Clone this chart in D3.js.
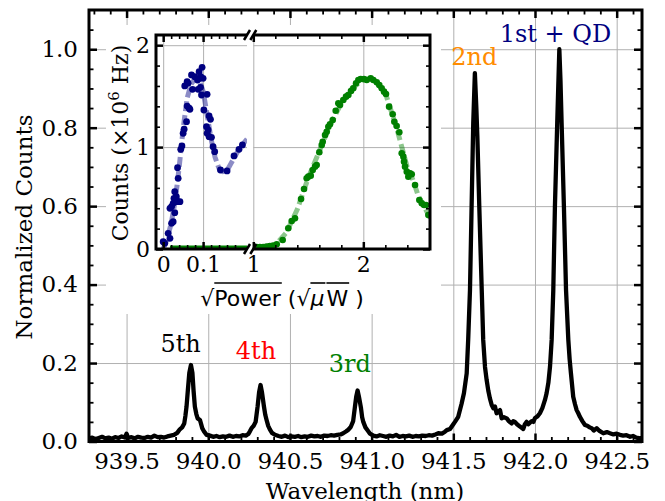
<!DOCTYPE html>
<html>
<head>
<meta charset="utf-8">
<script src="https://cdn.jsdelivr.net/npm/d3@7"></script>
<style>
  body { margin: 0; background: #fff; }
  svg { display: block; }
  text { white-space: pre; }
</style>
</head>
<body>
<svg id="chart" width="665" height="501"></svg>
<script>
// ---- main spectrum (wavelength nm, normalized counts) ----
var specWl = [939.27, 939.29, 939.31, 939.33, 939.35, 939.37, 939.39, 939.41, 939.43, 939.45, 939.47, 939.49, 939.50, 939.51,
  939.53, 939.55, 939.57, 939.59, 939.61, 939.63, 939.65, 939.67, 939.69, 939.71, 939.73, 939.75, 939.77, 939.79, 939.81,
  939.826, 939.84, 939.853, 939.86, 939.867, 939.875, 939.884, 939.894, 939.903, 939.91, 939.918, 939.927, 939.935, 939.949,
  939.956, 939.963, 939.975, 939.99, 940.01, 940.03, 940.05, 940.07, 940.09, 940.11, 940.13, 940.15, 940.17, 940.19, 940.21,
  940.23, 940.245, 940.255, 940.265, 940.278, 940.29, 940.302, 940.311, 940.32, 940.329, 940.341, 940.349, 940.357, 940.367,
  940.377, 940.39, 940.408, 940.43, 940.45, 940.47, 940.49, 940.51, 940.53, 940.55, 940.57, 940.59, 940.61, 940.63, 940.65,
  940.67, 940.69, 940.71, 940.73, 940.75, 940.77, 940.79, 940.81, 940.826, 940.845, 940.857, 940.872, 940.887, 940.898,
  940.906, 940.914, 940.922, 940.935, 940.942, 940.949, 940.962, 940.976, 940.99, 941.01, 941.03, 941.05, 941.07, 941.09,
  941.11, 941.13, 941.15, 941.17, 941.19, 941.21, 941.23, 941.25, 941.27, 941.29, 941.31, 941.33, 941.35, 941.37, 941.39,
  941.408, 941.43, 941.449, 941.46, 941.48, 941.50, 941.51, 941.53, 941.551, 941.565, 941.582, 941.591, 941.602, 941.612,
  941.622, 941.632, 941.641, 941.647, 941.659, 941.674, 941.683, 941.694, 941.704, 941.714, 941.724, 941.735, 941.745,
  941.755, 941.765, 941.776, 941.786, 941.796, 941.81, 941.827, 941.84, 941.857, 941.867, 941.877, 941.89, 941.908, 941.918,
  941.928, 941.938, 941.949, 941.959, 941.969, 941.98, 941.99, 942.0, 942.015, 942.03, 942.045, 942.061, 942.071, 942.082,
  942.092, 942.102, 942.112, 942.122, 942.136, 942.149, 942.156, 942.163, 942.177, 942.19, 942.204, 942.212, 942.22, 942.234,
  942.245, 942.255, 942.265, 942.275, 942.29, 942.306, 942.32, 942.335, 942.347, 942.36, 942.378, 942.395, 942.418, 942.44,
  942.459, 942.48, 942.50, 942.52, 942.54, 942.56, 942.582, 942.60, 942.62, 942.643, 942.655];
var specCounts = [0.008, 0.010, 0.006, 0.009, 0.012, 0.008, 0.010, 0.007, 0.011, 0.009, 0.013, 0.010, 0.020, 0.009,
  0.011, 0.008, 0.012, 0.010, 0.009, 0.012, 0.010, 0.015, 0.011, 0.012, 0.010, 0.013, 0.015, 0.017, 0.022,
  0.031, 0.036, 0.046, 0.065, 0.089, 0.130, 0.175, 0.195, 0.175, 0.130, 0.089, 0.070, 0.059, 0.055,
  0.045, 0.034, 0.025, 0.017, 0.015, 0.012, 0.014, 0.011, 0.013, 0.012, 0.015, 0.012, 0.014, 0.013, 0.016,
  0.015, 0.019, 0.026, 0.034, 0.040, 0.050, 0.089, 0.125, 0.144, 0.125, 0.089, 0.068, 0.055, 0.040,
  0.031, 0.022, 0.017, 0.014, 0.012, 0.015, 0.011, 0.013, 0.012, 0.014, 0.011, 0.013, 0.012, 0.015, 0.013,
  0.014, 0.012, 0.015, 0.014, 0.016, 0.015, 0.017, 0.018, 0.021, 0.026, 0.030, 0.037, 0.052, 0.089,
  0.115, 0.130, 0.115, 0.085, 0.062, 0.050, 0.036, 0.028, 0.020, 0.015, 0.013, 0.016, 0.014, 0.012,
  0.015, 0.013, 0.017, 0.012, 0.014, 0.013, 0.015, 0.012, 0.014, 0.013, 0.015, 0.014, 0.016, 0.015, 0.018,
  0.021, 0.020, 0.025, 0.029, 0.032, 0.044, 0.050, 0.063, 0.097, 0.123, 0.174, 0.259, 0.386, 0.599,
  0.811, 0.939, 0.850, 0.780, 0.599, 0.386, 0.259, 0.190, 0.157, 0.130, 0.110, 0.093, 0.085,
  0.089, 0.072, 0.076, 0.080, 0.059, 0.062, 0.059, 0.052, 0.046, 0.052, 0.050, 0.044, 0.038, 0.035,
  0.032, 0.044, 0.050, 0.044, 0.048, 0.052, 0.050, 0.060, 0.064, 0.072, 0.085, 0.106, 0.123, 0.150,
  0.191, 0.259, 0.386, 0.599, 0.811, 1.000, 0.920, 0.811, 0.599, 0.386, 0.259, 0.210, 0.174, 0.114,
  0.095, 0.080, 0.072, 0.063, 0.052, 0.042, 0.040, 0.036, 0.034, 0.028, 0.034, 0.027, 0.021, 0.024,
  0.021, 0.018, 0.020, 0.017, 0.015, 0.016, 0.012, 0.014, 0.010, 0.008, 0.009];

var xTicks = [939.5, 940.0, 940.5, 941.0, 941.5, 942.0, 942.5];
var yTicks = [0.0, 0.2, 0.4, 0.6, 0.8, 1.0];

// peak labels: text, wavelength, count where the label sits
var peakNames = ["5th", "4th", "3rd", "2nd", "1st + QD"];
var peakWl = [939.831, 940.292, 940.867, 941.628, 942.125];
var peakAt = [0.228, 0.210, 0.177, 0.960, 1.019];

// ---- inset: low power (navy) ----
var lowX = [0.000, 0.004, 0.0125, 0.017, 0.021, 0.025, 0.029, 0.032, 0.025, 0.021, 0.017, 0.027, 0.033, 0.0375, 0.042,
  0.029, 0.0375, 0.036, 0.044, 0.047, 0.050, 0.0525, 0.0585, 0.060, 0.065, 0.067, 0.054, 0.060, 0.0625, 0.071, 0.0735,
  0.079, 0.086, 0.090, 0.092, 0.0935, 0.096, 0.0975, 0.100, 0.094, 0.0875, 0.110, 0.102, 0.115, 0.1185, 0.1085, 0.1125,
  0.110, 0.115, 0.121, 0.125, 0.129, 0.1435, 0.160, 0.1775, 0.190, 0.1985];
var lowY = [0.072, 0.056, 0.154, 0.105, 0.252, 0.268, 0.356, 0.464, 0.448, 0.415, 0.399, 0.497, 0.513, 0.464, 0.464,
  0.562, 0.694, 0.798, 0.978, 1.011, 1.135, 1.175, 1.249, 1.403, 1.381, 1.371, 1.600, 1.642, 1.626, 1.708, 1.567,
  1.691, 1.658, 1.740, 1.675, 1.587, 1.511, 1.783, 1.675, 1.691, 1.567, 1.518, 1.364, 1.305, 1.273, 1.200, 1.168,
  1.135, 1.102, 1.096, 1.004, 0.955, 0.775, 0.766, 0.913, 0.978, 1.021];
var lowFitX = [0.0, 0.01, 0.02, 0.03, 0.04, 0.05, 0.06, 0.07, 0.08, 0.09, 0.10, 0.11, 0.12, 0.13, 0.14, 0.15, 0.16, 0.17, 0.18, 0.19, 0.20, 0.21];
var lowFitY = [0.0, 0.10, 0.25, 0.47, 0.80, 1.18, 1.48, 1.62, 1.67, 1.66, 1.55, 1.32, 1.08, 0.90, 0.79, 0.76, 0.77, 0.84, 0.91, 0.98, 1.03, 1.08];
var greenLowX = [0.017, 0.21];
var greenLowY = [0.02, 0.02];

// ---- inset: high power (green) ----
var highX = [1.00, 1.03, 1.06, 1.09, 1.12, 1.15, 1.18, 1.213, 1.267, 1.318, 1.349, 1.379, 1.434, 1.461, 1.485, 1.500, 1.522,
  1.540, 1.561, 1.576, 1.600, 1.622, 1.631, 1.652, 1.667, 1.682, 1.697, 1.722, 1.749, 1.773, 1.788, 1.818, 1.843, 1.864,
  1.888, 1.909, 1.934, 1.955, 1.976, 2.006, 2.031, 2.067, 2.091, 2.122, 2.145, 2.167, 2.188, 2.206, 2.234, 2.267, 2.282,
  2.303, 2.327, 2.349, 2.364, 2.370, 2.379, 2.395, 2.409, 2.425, 2.440, 2.470, 2.509, 2.531, 2.552, 2.570, 2.591];
var highY = [0.02, 0.02, 0.02, 0.02, 0.025, 0.03, 0.035, 0.046, 0.088, 0.203, 0.275, 0.301, 0.491, 0.589, 0.694, 0.710, 0.720,
  0.775, 0.808, 0.824, 0.949, 1.021, 1.053, 1.119, 1.151, 1.200, 1.224, 1.266, 1.357, 1.430, 1.413, 1.462, 1.495, 1.511,
  1.551, 1.577, 1.626, 1.658, 1.668, 1.668, 1.658, 1.675, 1.658, 1.636, 1.609, 1.577, 1.544, 1.521, 1.397, 1.322, 1.249,
  1.207, 1.145, 0.939, 0.906, 0.857, 0.808, 0.759, 0.710, 0.743, 0.733, 0.628, 0.481, 0.448, 0.432, 0.432, 0.334];
var highFitX = [1.0, 1.1, 1.2, 1.3, 1.4, 1.5, 1.6, 1.7, 1.8, 1.9, 2.0, 2.05, 2.1, 2.2, 2.3, 2.35, 2.4, 2.45, 2.5, 2.55, 2.61];
var highFitY = [0.0, 0.01, 0.04, 0.16, 0.39, 0.70, 0.96, 1.22, 1.43, 1.58, 1.66, 1.67, 1.66, 1.53, 1.20, 1.00, 0.80, 0.68, 0.52, 0.42, 0.30];

var lowTicks = [0, 0.1];
var highTicks = [1, 2];
var insetYTicks = [0, 1, 2];

var svg = d3.select("#chart");
var serif = "'DejaVu Serif', serif";
var sans = "'DejaVu Sans', sans-serif";

// ===== main axes =====
var x = d3.scaleLinear().domain([939.27, 942.655]).range([89, 642]);
var y = d3.scaleLinear().domain([0, 1.1]).range([441.5, 10]);
var xMinor = d3.range(939.3, 942.66, 0.1).filter(function(v){ return Math.abs(v*2 - Math.round(v*2)) > 0.01; });
var yMinor = d3.range(0, 1.1, 0.05).filter(function(v){ return Math.abs(v*5 - Math.round(v*5)) > 0.01; });

function plain(g) {
  g.select(".domain").remove();
}

// grid
svg.append("g").attr("transform", "translate(0,441.5)")
  .call(d3.axisBottom(x).tickValues(xTicks).tickSize(-431.5).tickFormat(""))
  .call(plain).selectAll("line").attr("stroke", "#b0b0b0").attr("stroke-width", 1);
svg.append("g").attr("transform", "translate(89,0)")
  .call(d3.axisLeft(y).tickValues(yTicks).tickSize(-553).tickFormat(""))
  .call(plain).selectAll("line").attr("stroke", "#b0b0b0").attr("stroke-width", 1);

// spectrum
var spec = specWl.map(function(d, i){ return [d, specCounts[i]]; });
svg.append("path").datum(spec)
  .attr("fill", "none").attr("stroke", "#000").attr("stroke-width", 4.3)
  .attr("stroke-linejoin", "round")
  .attr("d", d3.line().x(function(d){ return x(d[0]); }).y(function(d){ return y(d[1]); }));

// ticks (inward, all four sides)
function tickStyle(g, w) {
  g.call(plain);
  g.selectAll("line").attr("stroke", "#000").attr("stroke-width", w);
  g.selectAll("text").attr("font-family", serif).attr("font-size", 23).attr("fill", "#000");
}
svg.append("g").attr("transform", "translate(0,441.5)")
  .call(d3.axisBottom(x).tickValues(xTicks).tickSize(-8).tickPadding(11).tickFormat(d3.format(".1f")))
  .call(tickStyle, 2.5);
svg.append("g").attr("transform", "translate(0,441.5)")
  .call(d3.axisBottom(x).tickValues(xMinor).tickSize(-4.5).tickFormat("")).call(tickStyle, 1.8);
svg.append("g").attr("transform", "translate(0,10)")
  .call(d3.axisTop(x).tickValues(xTicks).tickSize(-8).tickFormat("")).call(tickStyle, 2.5);
svg.append("g").attr("transform", "translate(0,10)")
  .call(d3.axisTop(x).tickValues(xMinor).tickSize(-4.5).tickFormat("")).call(tickStyle, 1.8);
svg.append("g").attr("transform", "translate(89,0)")
  .call(d3.axisLeft(y).tickValues(yTicks).tickSize(-8).tickPadding(11).tickFormat(d3.format(".1f")))
  .call(tickStyle, 2.5);
svg.append("g").attr("transform", "translate(89,0)")
  .call(d3.axisLeft(y).tickValues(yMinor).tickSize(-4.5).tickFormat("")).call(tickStyle, 1.8);
svg.append("g").attr("transform", "translate(642,0)")
  .call(d3.axisRight(y).tickValues(yTicks).tickSize(-8).tickFormat("")).call(tickStyle, 2.5);
svg.append("g").attr("transform", "translate(642,0)")
  .call(d3.axisRight(y).tickValues(yMinor).tickSize(-4.5).tickFormat("")).call(tickStyle, 1.8);

svg.append("rect").attr("x", 89).attr("y", 10).attr("width", 553).attr("height", 431.5)
  .attr("fill", "none").attr("stroke", "#000").attr("stroke-width", 3);

// axis titles (the bottom one is cut by the frame edge, as in the original)
svg.append("text").attr("x", 365).attr("y", 499).attr("text-anchor", "middle")
  .attr("font-family", serif).attr("font-size", 23).text("Wavelength (nm)");
svg.append("text").attr("transform", "translate(32,227) rotate(-90)").attr("text-anchor", "middle")
  .attr("font-family", serif).attr("font-size", 23).text("Normalized Counts");

// peak labels
var peakColor = { "5th": "#000", "4th": "red", "3rd": "green", "2nd": "darkorange", "1st + QD": "navy" };
peakNames.forEach(function(name, i){
  svg.append("text").attr("x", x(peakWl[i])).attr("y", y(peakAt[i]))
    .attr("text-anchor", "middle").attr("font-family", serif).attr("font-size", 24)
    .attr("fill", peakColor[name]).text(name);
});

// ===== inset =====
svg.append("rect").attr("x", 106).attr("y", 25).attr("width", 335).attr("height", 289).attr("fill", "#fff");

var yI = d3.scaleLinear().domain([0, 2.1]).range([249, 35]);
var xL = d3.scaleLinear().domain([-0.018, 0.21]).range([156, 247]);
var xR = d3.scaleLinear().domain([1, 2.606]).range([253.3, 430]);
var yIMinor = d3.range(0, 2.1, 0.2).filter(function(v){ return Math.abs(v - Math.round(v)) > 0.01; });
var lowMinor = d3.range(0.02, 0.21, 0.02).filter(function(v){ return Math.abs(v*10 - Math.round(v*10)) > 0.01; });
var highMinor = d3.range(1.2, 2.61, 0.2).filter(function(v){ return Math.abs(v - Math.round(v)) > 0.01; });

var defs = svg.append("defs");
defs.append("clipPath").attr("id", "clipL").append("rect").attr("x", 156).attr("y", 35).attr("width", 91).attr("height", 214);
defs.append("clipPath").attr("id", "clipR").append("rect").attr("x", 253.3).attr("y", 35).attr("width", 176.7).attr("height", 214);

function insetGrid(xs, ticks, x0, w) {
  svg.append("g").attr("transform", "translate(0,249)")
    .call(d3.axisBottom(xs).tickValues(ticks).tickSize(-214).tickFormat(""))
    .call(plain).selectAll("line").attr("stroke", "#b0b0b0").attr("stroke-width", 1);
  svg.append("g").attr("transform", "translate(" + x0 + ",0)")
    .call(d3.axisLeft(yI).tickValues([1, 2]).tickSize(-w).tickFormat(""))
    .call(plain).selectAll("line").attr("stroke", "#b0b0b0").attr("stroke-width", 1);
}
insetGrid(xL, lowTicks, 156, 91);
insetGrid(xR, highTicks, 253.3, 176.7);

// fits and points
var fitLine = function(xs) {
  return d3.line().x(function(d){ return xs(d[0]); }).y(function(d){ return yI(d[1]); });
};
var gL = svg.append("g").attr("clip-path", "url(#clipL)");
var gR = svg.append("g").attr("clip-path", "url(#clipR)");

gL.append("path").datum(greenLowX.map(function(d, i){ return [d, greenLowY[i]]; }))
  .attr("fill", "none").attr("stroke", "green").attr("stroke-width", 3).attr("d", fitLine(xL));
gL.append("path").datum(lowFitX.map(function(d, i){ return [d, lowFitY[i]]; }))
  .attr("fill", "none").attr("stroke", "navy").attr("stroke-opacity", 0.45).attr("stroke-width", 5)
  .attr("stroke-dasharray", "10,4").attr("d", fitLine(xL));
gL.selectAll("circle").data(lowX).enter().append("circle")
  .attr("cx", function(d){ return xL(d); }).attr("cy", function(d, i){ return yI(lowY[i]); })
  .attr("r", 3.4).attr("fill", "navy");

gR.append("path").datum(highFitX.map(function(d, i){ return [d, highFitY[i]]; }))
  .attr("fill", "none").attr("stroke", "green").attr("stroke-opacity", 0.45).attr("stroke-width", 5)
  .attr("stroke-dasharray", "10,4").attr("d", fitLine(xR));
gR.selectAll("circle").data(highX).enter().append("circle")
  .attr("cx", function(d){ return xR(d); }).attr("cy", function(d, i){ return yI(highY[i]); })
  .attr("r", 3.3).attr("fill", "green");

// inset ticks
function insetTicks(g, w) {
  g.call(plain);
  g.selectAll("line").attr("stroke", "#000").attr("stroke-width", w);
  g.selectAll("text").attr("font-family", serif).attr("font-size", 22).attr("fill", "#000");
}
[[xL, lowTicks, lowMinor], [xR, highTicks, highMinor]].forEach(function(p){
  svg.append("g").attr("transform", "translate(0,249)")
    .call(d3.axisBottom(p[0]).tickValues(p[1]).tickSize(-7).tickPadding(7).tickFormat(d3.format("")))
    .call(insetTicks, 2.5);
  svg.append("g").attr("transform", "translate(0,249)")
    .call(d3.axisBottom(p[0]).tickValues(p[2]).tickSize(-4).tickFormat("")).call(insetTicks, 1.6);
  svg.append("g").attr("transform", "translate(0,35)")
    .call(d3.axisTop(p[0]).tickValues(p[1]).tickSize(-7).tickFormat("")).call(insetTicks, 2.5);
  svg.append("g").attr("transform", "translate(0,35)")
    .call(d3.axisTop(p[0]).tickValues(p[2]).tickSize(-4).tickFormat("")).call(insetTicks, 1.6);
});
svg.append("g").attr("transform", "translate(156,0)")
  .call(d3.axisLeft(yI).tickValues(insetYTicks).tickSize(-7).tickPadding(6).tickFormat(d3.format("d")))
  .call(insetTicks, 2.5);
svg.append("g").attr("transform", "translate(156,0)")
  .call(d3.axisLeft(yI).tickValues(yIMinor).tickSize(-4).tickFormat("")).call(insetTicks, 1.6);
svg.append("g").attr("transform", "translate(430,0)")
  .call(d3.axisRight(yI).tickValues(insetYTicks).tickSize(-7).tickFormat("")).call(insetTicks, 2.5);
svg.append("g").attr("transform", "translate(430,0)")
  .call(d3.axisRight(yI).tickValues(yIMinor).tickSize(-4).tickFormat("")).call(insetTicks, 1.6);

// spines (broken axis)
var spine = svg.append("g").attr("fill", "none").attr("stroke", "#000").attr("stroke-width", 3);
spine.append("path").attr("d", "M247,35H156V249H247");
spine.append("path").attr("d", "M253.3,35H430V249H253.3");
[[247, 35], [247, 249], [253.3, 35], [253.3, 249]].forEach(function(c){
  svg.append("line").attr("x1", c[0] - 3).attr("y1", c[1] + 5).attr("x2", c[0] + 3).attr("y2", c[1] - 5)
    .attr("stroke", "#000").attr("stroke-width", 2.5);
});

// inset titles
var yl = svg.append("text").attr("transform", "translate(128,143) rotate(-90)").attr("text-anchor", "middle")
  .attr("font-family", serif).attr("font-size", 22);
yl.append("tspan").text("Counts (\u00d710");
yl.append("tspan").attr("font-size", 15).attr("dy", -9).text("6");
yl.append("tspan").attr("dy", 9).text("\u00a0Hz)");

// sqrt(Power) (sqrt(uW)) label with overlines
var parts = [["\u221a", false, "normal"], ["Power", true, "normal"], ["\u00a0(", false, "normal"],
  ["\u221a", false, "normal"], ["\u03bc", true, "italic"], ["W", true, "normal"], ["\u00a0)", false, "normal"]];
var lab = svg.append("g");
var cx = 0, pieces = [];
parts.forEach(function(p){
  var t = lab.append("text").attr("x", cx).attr("y", 306).attr("font-family", sans).attr("font-size", 22)
    .attr("font-style", p[2]).text(p[0]);
  var w = t.node().getComputedTextLength();
  pieces.push([t, cx, w, p[1]]);
  cx += w + (p[0] === "\u03bc" ? 2 : 0);
});
var shift = 282 - cx / 2;
lab.attr("transform", "translate(" + shift + ",0)");
pieces.forEach(function(p){
  if (p[3]) {
    lab.append("line").attr("x1", p[1]).attr("x2", p[1] + p[2] + 1).attr("y1", 283).attr("y2", 283)
      .attr("stroke", "#000").attr("stroke-width", 1.6);
  }
});
</script>
</body>
</html>
